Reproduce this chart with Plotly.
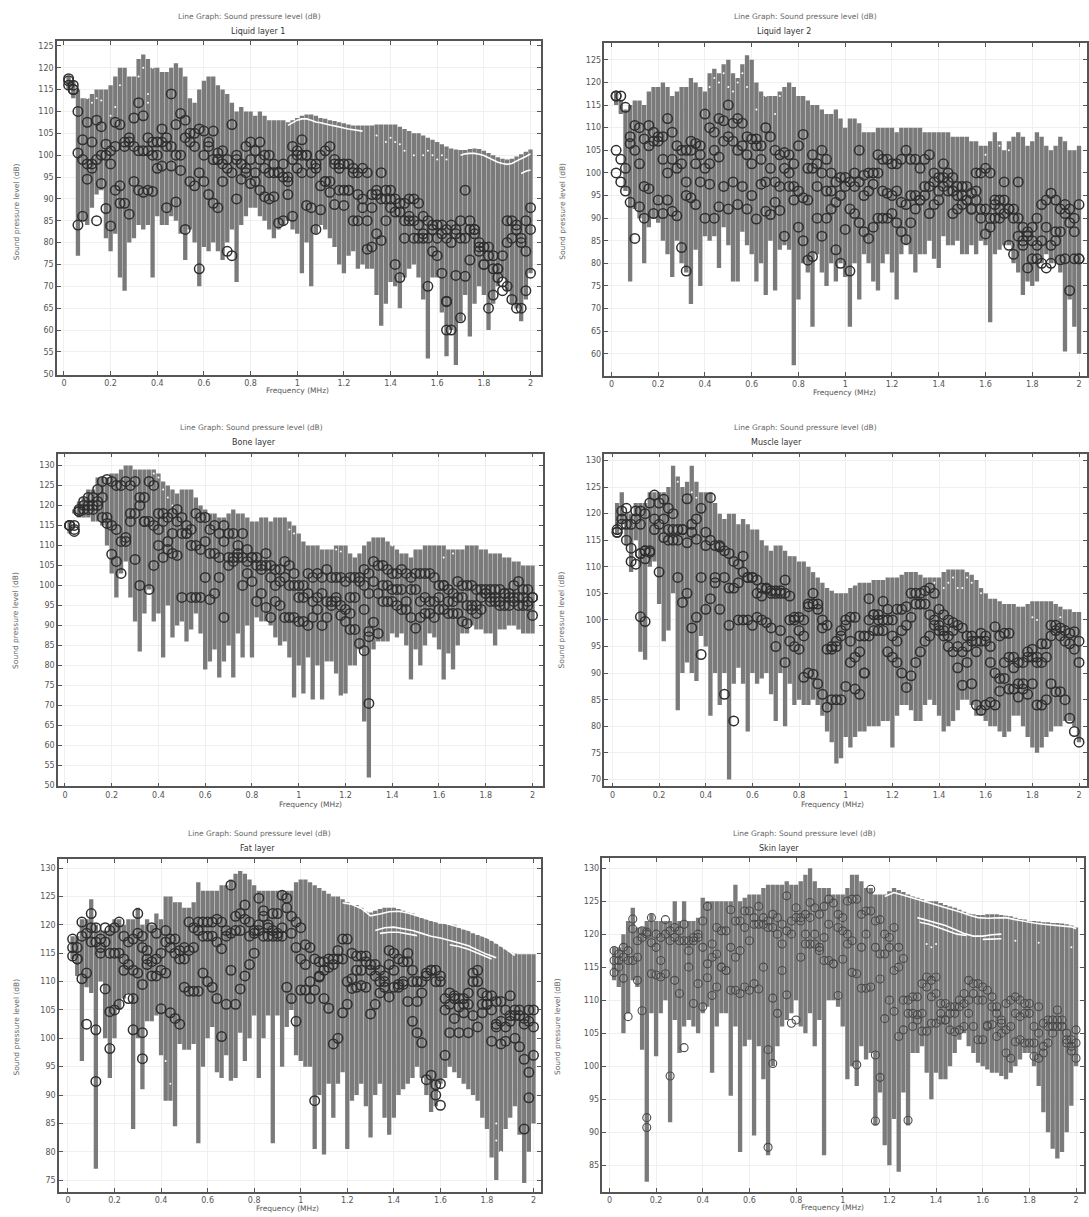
import plotly.graph_objects as go

FREQ = [round(0.02 * i, 2) for i in range(1, 101)]
MAIN_TITLE = "Line Graph: Sound pressure level (dB)"
Y_LABEL = "Sound pressure level (dB)"
X_LABEL = "Frequency (MHz)"

# ---------- Liquid layer 1 ----------
L1_TOP = [118,117,115,113,113,114,115,115,115,116,
          118,120,120,118,118,122,123,122,120,120,
          119,119,120,121,120,118,113,112,115,117,
          118,118,116,115,114,112,110,111,110,110,
          109,110,109,108,108,108,108,107.5,108,108.5,
          109,109.3,109.3,109,108.5,108.3,108,107.8,107.5,107.3,
          107,106.8,106.8,106.8,106.8,106.8,107,107,107,107,
          107,106.5,106,105.5,105,105,104.5,104,103.5,103,
          102.5,102,101.5,101.3,101.2,101.2,101.4,101.5,101.4,101,
          100.5,100,99.5,99.2,99,99.2,99.7,100.2,100.8,101.3]
L1_BOT = [115,113,77,85,84,88,91,92,81,78,
          82,72,69,80,81,84,83,84,72,86,
          84,84,86,85,82,76,83,80,70,79,
          78,80,78,76,80,83,71,84,86,88,
          88,86,85,83,81,83,84,85,83,82,
          73,80,70,82,84,83,81,79,75,73,
          77,78,74,75,74,74,68,61,66,71,
          70,65,72,74,75,72,67,53.5,72,72,
          64,54,60,52,62,68,58.5,66,70,68,
          60,66,70,72,69,66,65,62,67,73]
L1_C1 = [117.5,116,110,103.5,107.5,103,108,106.5,102.5,101,
         107.5,107,103,104,108.5,112,109,104,103,103,
         106,104,114,107,109.5,108,105,105,106,105.5,
         103,105.5,100.5,101,99,107,99,98,102,103,
         101,103,100,100,98,96,98,95,102,101,
         103.5,100,98,98,100,101,102,99,98,98,
         98,97,96,97,96,91,92,96,92,90,
         90,89,89,90,90,89,86,85,84,84,
         84,83,84,83,85,92,85,83,80,79,
         79,77,74,77,85,85,84,81,85,88]
L1_C2 = [117,115,100.5,99,98,98,99,100,100,98,
         102,93,102,103,102,101,101,101,100,100,
         103,102,102,100,100,104,103,102,96,100,
         102,99,99,98,97,96,100,98,97,99,
         96,99,97,96,96,96,95,94,99,100,
         100,100,96,97,93,94,94,98,97,92,
         92,96,91,90,85,88,91,90,90,88,
         87,87,85,86,85,84,82,81,83,81,
         82,81,80,82,81,81,83,83,78,75,
         77,74,74,71,80,81,83,80,78,83]
L1_C3 = [116,115,84,86,94.5,97,85,93.5,87.8,83.8,
         92,89,89,86.5,94,92,91.5,92,91.7,97,
         97.5,88,97.5,89.3,96.5,83,94,93,74,94,
         91,89,88,94,78,77,90,94.5,96,93.5,
         94,92,90.5,90,90.5,84.5,85,91,86,97,
         96,88.5,88,83,87.5,94,91.5,88.7,92,88.5,
         92,85,85,88,78.5,79,82,80.5,85,92,
         75,72,81,85,81,81,81,70,78,77,
         73,66.5,60,72.5,62.8,72.3,76,82,79,75,
         65,68,72,69,70,67,65,65,69,73]
L1_EX_X = [0.66, 1.64, 1.64]
L1_EX_Y = [99, 66.6, 60]
L1_W = [([0.96,0.98,1.0,1.02,1.04,1.06,1.08,1.1,1.12,1.14,1.16,1.18,1.2,1.22,1.24,1.28],
         [106.8,107.5,108,108.3,108.3,108,107.6,107.4,107.1,106.9,106.7,106.4,106.2,106,105.8,105.5]),
        ([1.7,1.72,1.74,1.76,1.78,1.8,1.82,1.84,1.86,1.88,1.9,1.92,1.94,1.96,1.98,2.0],
         [100,100.3,100.4,100.4,100.2,99.9,99.4,98.9,98.4,98.1,97.9,98.1,98.7,99.2,99.7,100.3]),
        ([1.96,1.98,2.0], [95.8,96.3,96.6])]
L1_SP_X = [0.1,0.12,0.14,0.16,0.2,0.22,0.24,0.32,0.34,0.36,0.36,0.38,1.34,1.38,1.4,1.42,1.44,1.46,1.5,1.54,1.56,1.58,1.6,1.62,1.64]
L1_SP_Y = [113,112,113,112.5,109,111,116,118,120,114,112,120,104.5,103,104,103,102.5,101,100,100,101,100,99,100,99]

# ---------- Liquid layer 2 ----------
L2_TOP = [118,116,114,115,116,116,115,118,119,119,
          120,119,117,118,119,119,121,120,119,118,
          122,123,122,124,125,122,121,124,126,125,
          120,118,117,117,117,118,119,120,119,117,
          117,116,115,115,114,113,113,114,112,110,
          112,112,111,109,109,109,110,110,110,110,
          109,110,110,110,110,110,109,109,109,109,
          109,109,108,108,108,108,107,107,106,106,
          107,109,107,105,107,108,109,108,106,107,
          109,108,106,105,106,108,107,105,105,106]
L2_BOT = [115,113,96,76,92,90,80,88,90,89,
          85,82,77,85,80,78,71,83,75,86,
          85,86,79,88,84,76,76,87,84,82,
          76,80,73,85,74,83,84,83,57.5,72,
          80,78,66,82,78,75,80,76,80,77,
          66,80,72,82,80,76,74,80,82,78,
          72,82,84,82,78,82,82,85,81,79,
          86,84,84,85,82,82,84,82,85,84,
          67,82,83,84,84,80,78,73,76,75,
          76,80,82,80,80,78,60.5,72,66,60]
L2_C1 = [117,117,114.5,108,110.5,110,107.5,110.5,109,108,
         108,112,109,106,105,105,107,106.5,106,113,
         110,109,112,111.5,115,111,112,111,108,107.5,
         107.5,106,110,108,105,104,104.5,104,102,106,
         108.5,101,104,102,105,103,100,98,99,99,
         98,100,105,99.5,100,100,104,103,103,102,
         102,103,105,103,103,101,103,104,100,99,
         102,100,99,97,97,97,95.5,100,100,101,
         100,94,94,94,92,90,98,88,87,88,
         90,93,94,95.5,94,92,93,92,90,93]
L2_C2 = [105,103,101,106.5,105,102,97,106,107,107,
         103,100,103,101,102,98,105,102,104,101,
         102,105,103.5,107,108,107,105,106,104,102,
         106,103,98,101,98,97,101,100,97,96,
         94.5,94,101,97,100,96,96,93.5,95,97,
         92,97,98,95,96,97.5,100,96,95.5,95,
         96,93.5,93,95,95,94,97,97,98,96,
         97,96,96,95,95,94,92,94,92,92,
         90,93,90,91,92,92,90,84,86,85,
         84,85,88,84,87,87,91,89,87,81]
L2_C3 = [100,98,96,93.5,85.5,92.5,90,96.5,91,94,
         91,94,91.5,90.5,83.5,95,94.5,93,98,90,
         97.5,90,92.5,97,92,98,93,97,92,95,
         89.8,97.5,91.5,90.8,93.5,91.7,86,97,94,88,
         85,80.7,81.5,90,86,90,92,83,80,87.5,
         78.3,91,89,87,85.5,88,90,90,90,91,
         89,87,85.3,89,92,94,95,91,93,94,
         99,98,91,92,93,94,92,96,90,86.5,
         88,90,92,98,84,82,86,85,79,81,
         81,80,79,80,85,80.8,81,74,81,81]
L2_EX_X = [0.32, 0.02]
L2_EX_Y = [78.3, 117]
L2_W = []
L2_SP_X = [0.42,0.44,0.46,0.48,0.5,0.52,0.54,0.56,0.58,0.62,0.66,0.7,0.72,1.6,1.66,1.7]
L2_SP_Y = [119,121,120,122,119,118,120,122,119,114,117,113,117,104,106,105]

# ---------- Bone layer ----------
B_TOP = [116,119,121,122,124,124,127,127,127,128,
         128,129,130,130,129,129,129,129,129,128,
         126,125,124,123,124,124,124,122,120,119,
         118,118,117,117,118,119,118,118,117,116,
         116,117,117,116,117,117,117,116,115,113,
         111,110,110,110,109,109,109,110,110,110,
         108,107,108,110,111,112,112,112,111,110,
         109,108,108,107,109,109,110,110,110,110,
         110,109,109,109,109,110,110,110,109,109,
         108,108,108,107,107,106,106,105,105,105]
B_BOT = [113,118,117,117,117,116,116,115,110,103,
         97,103,106,97,91,83.5,93,99,91,93,
         82,95,87,90,91,86,89,93,88,79,
         81,84,77,81,85,77,88,82,90,82,
         92,91,91,90,87,85,86,82,72,80,
         73,82,71.5,80,71.5,81,81,78,72.5,73,
         80,80,84,66,52,84,86,86,86,88,
         87,88,85,76.5,84,80,85,88,87,84,
         76.5,83,79,85,88,88,90,89,89,88,
         88,85,89,89,90,90,89,88,88,88]
B_C1 = [115,115,119,121,122,122,124,126,126.5,126,
        125,125,126,125,126,122,122,126,125,118,
        118,117,118,119,117,115,114,118,117,117,
        114,115,113,115,113,113,110,113,109,107,
        107,105,108,105,104,104,106,105,103,100,
        100,103,102,103,102,104,102,102,102,101,
        102,102,102,104,103,106,105,105,104,103,
        103,104,103,102,103,103,103,103,102,100,
        100,99,98,101,100,100,100,99,99,99,
        99,99,99,98,98,100,101,99,99,97]
B_C2 = [115,113.5,118.5,120,120,120,121,122,117,115,
        114,111,112,116,118,120,116,116,115,114,
        116,111,113,116,113,113,110,110,109,111,
        108,108,107,111,107,107,107,107,106,107,
        105,104,105,102,100,101,102,100,100,97,
        97,98,96,97,98,96,96,97,95,94,
        97,97,101,100,98,101,98,100,100,99,
        99,99,96,99,99,96,97,96,96,97,
        100,96,96,97,97,95,94,95,97,98,
        97,97,96,98,97,97,97,97,96,97]
B_C3 = [115,114,118.5,119,119,119,120,117,115.5,107.8,
        106,103,111,118,106.5,100,116,99,105,110,
        107,109,108,107.5,97,113,97,97,97,102,
        96.5,98,102,92,105,106,108,100,103,101,
        96,98,94.5,92,96,95,92,92,92,91,
        91,90,92,94,90,92,95,96,92.5,91,
        93,89,85.5,94,70.5,90.8,88,96,96,96,
        95,94,94,92,89.3,92,93,93,92,94,
        94,93,93,93,91,90.5,95,93,94,98,
        96,96,95,95,95,96,95,95,95,92.5]
B_EX_X = [1.28, 1.3, 1.3, 1.22]
B_EX_Y = [83.7, 88.5, 87.2, 89]
B_W = []
B_SP_X = [0.38,0.4,0.42,0.44,0.46,0.96,0.98,1.16,1.18,1.4,1.44,1.46,1.62,1.66]
B_SP_Y = [128,127,124,122,120,114,113,109,108.5,110,109,110,107,108]

# ---------- Muscle layer ----------
M_TOP = [122,124,120,120,122,122,122,124,124,124,
         124,125,129,127,125,126,129,126,124,124,
         124,122,120,119,120,120,118,119,118,117,
         117,115,114,113,114,114,113,112,112,111,
         111,110,109,108,107,106,105.5,105,105,105,
         106,106.5,107,107,107,107.5,107.5,107.5,108,108,
         108,108.5,109,109,109,108.5,108,108,108,108,
         109,109.5,109.5,109.5,109.5,109,108.5,107.5,106,105,
         104,104,103.5,103,103,103,102.5,102.5,103,103.5,
         103.5,103.5,103.5,103.5,103,102.5,102,102,101.5,101.5]
M_BOT = [116,118,114,109,115,94,92.5,110,111,103,
         96,98,105,83,90,92,90,88.5,97,95,
         82,90,84,90,70,88,91,88,79,90,
         88,89,90,86,81,90,80,88,84,85,
         84,84,85,84,82,79,77,73,74,78,
         76,78,79,79,80,80,80,81,81,76,
         82,84,84,83,81,81,84,85,84,82,
         79,80,81,83,85,85,84,82,82,81,
         80,80,79,78,79,82,82,80,78,76,
         75,76,78,79,80,80,81,81,80,77]
M_C1 = [117,120.5,121,118,120.5,120.5,120,122,123.5,122,
        122.7,121,120,117,117,122.8,118,119,121,116.5,
        123,114,113.7,113,112.5,111,110.5,112,108,108,
        107.5,106,105.8,105.5,105.5,105.5,107.5,104.5,100.5,100.5,
        100,103,105,103,100,99,95,96,97,100,
        100.5,100.5,97,97,104,101,101,103.5,102,100,
        102,102,102.5,105,105,105,105.5,106,105,102,
        101,100,99.5,99,98.5,97,97,94,97.5,97,
        95,98.7,97,97.5,97.5,93,92,92,94,94.5,
        93,95.5,95.5,99,99,98.5,98,97.5,97.8,96]
M_C2 = [116.5,119,118,113.5,119,118,113,112.7,119,118,
        119,117,117,115,117,114.5,116.5,115.2,108,114,
        115,108,114,108,106,106,107,109,108,108,
        105,104.5,106,105,105,105,105,100,100,98,
        97,102.5,103,102,98.5,94.5,94.5,95,98,99,
        96,93,94,90,100,101,100,100,100,97,
        96,98,99,100.5,103,103,103,101,100,99,
        98,97,98,95,94,95,96,96,96,96,
        92,90,89,92,93,91,88,88,93,93,
        92,92,93,97,98,97,96,95.5,94.5,92]
M_C3 = [116.5,118,115,111,110.5,100.6,99.7,113,117,109,
        115.5,115,115,108,103.3,105,98.5,100.5,93.5,102,
        104,107,102,86,99,81,100,100,100,99,
        100.5,100,99.5,98.5,95,98,92,96,95,94.5,
        89.2,90,89.8,88,86,83.6,85,85,85,87.5,
        92,87,86,90,97,98,98,98,94,93,
        92,90,87.3,89.5,92,94,96,97,99,98,
        97,95,94,91,87.7,92,88,84,83,84,
        84.5,84,86.6,89,87,87,85.5,87,86,88,
        84,84,85,88,86.5,86.5,85,81.5,79,77]
M_EX_X = [0.12, 0.14, 0.12, 0.14]
M_EX_Y = [112.5, 113, 112.5, 111.5]
M_W = []
M_SP_X = [0.28,0.3,0.34,0.36,1.38,1.42,1.44,1.46,1.48,1.5,1.52,1.54,1.58,1.8,1.82,1.92]
M_SP_Y = [126,123,124,123,107,106,107,108,106,106,108,107,105,100.5,100,100.5]

# ---------- Fat layer ----------
F_TOP = [118,118,121,121,124.5,120,119,119,120,121,
         121,120,121,121,123,120,121,120,122,121,
         125,125,124,124,123,123,124,127.5,126,126,
         126,126,127,127,128,129,129.5,129,128,127,
         126,126,126,126,126,126,126,126,127.5,128,
         128,127.5,127,126.5,126,125.5,125,125,124.5,124,
         123.5,123.5,123,122.3,122.2,122.5,122.8,123,123,123,
         122.8,122.5,122.2,122,121.5,121.2,121,120.7,120.5,120.2,
         120.2,120,120,119.5,119.2,119,118.5,118.2,118,117.7,
         117.2,116.7,116.2,115.7,115.2,114.9,114.8,114.8,114.8,114.8]
F_BOT = [114,111,96,109,108,77,110,100,93,100,
         105,107,108,84,100,91,103,103,104,97,
         89,89,84.5,99,98,98,99,81.5,95,100,
         102,94,93,97,92.5,93,101,96,100,104,
         93,100,104,81.5,104,95,102,105,97,96,
         95,95,80.5,90,79.5,92,86,92,94,80.5,
         89,90,92,88,82.5,90,92,86,83,86,
         90,91,92,93,95,93,90,87,88,92,
         93,95,94,93,92,91,90,89,86,84,
         79,75,80,84,86,88,83,74.5,80,85]
F_C1 = [117.5,116,120.5,118.5,122,119.5,117.5,119.5,119,119.5,
        120.5,118,117,117.5,122,118,115.5,119.5,118.5,115,
        119,117.5,117.5,115.5,116,120.5,119.5,120.5,120.5,120.5,
        120.5,121,120.5,119,127,121.5,122,123.5,120.5,119,
        124.7,122.5,120,122,122,125.2,124.7,121.5,120.5,119.5,
        116.5,116,114,113.5,113.5,114,114,115.5,117.5,117.5,
        115,114.5,114.5,114.5,113,113,112,111,115.5,115,
        114,113.5,115,112,110,110,111.5,112,112,111,
        107,108,107.5,107,107,108,111.5,112,108,107.5,
        107.5,106.5,106.5,105,107.5,105,104,103.5,105,105]
F_C2 = [116,114,118,111.5,119.5,117,116,117,115,115,
        115,114,113,112,118.5,116,114,113.5,114,112,
        117,116,115,114,114,115.5,116,119,118,118,
        118,117,115.8,118,118.5,119,119,121,118,118.5,
        120,121.5,119.5,119,118.5,119.5,123,118.5,116,114,
        113,110,108.5,111,112,112.5,113,114,114,110,
        110.5,112,112,113.5,112,111,110,110,113,112,
        109.5,110,113.5,110,106.5,108,111,112,110,110,
        105,106,107,105.5,106,106,110,110,106,106,
        105,102.5,103,102,104,104,105,102.5,103,102]
F_C3 = [114.5,114,110.5,102.5,117,101.5,115,108.7,104.7,105,
        106,112,107,101.5,111.5,109.5,113,111,111,105.2,
        111.5,104.5,103.5,102.5,109,108.3,108.3,108.3,111.5,110,
        109,107,100.3,106,112,106,108.7,111,113,115,
        119,118,118,118,118,118,109,107,103,108.5,
        108.5,107,89,110.8,107,105.3,99,100,104.5,106,
        108.8,109,109.3,109,104.3,106,108,109,107.3,109,
        109,109.5,106.5,103,101,99.2,92.7,93.5,90,88.2,
        97,101,103.5,101,104.5,101,104,102,104.5,106,
        99.5,102,99,99.5,103,100,98.5,84,89.5,97]
F_EX_X = [0.12, 0.18, 0.32, 0.28, 0.32, 1.98, 1.96, 1.58, 1.6]
F_EX_Y = [92.4, 98.2, 96.4, 107, 101, 94, 96.3, 91.8, 92]
F_W = [([1.18,1.22,1.26,1.3,1.34,1.38,1.42,1.46,1.5,1.54,1.58,1.62,1.66,1.7,1.74,1.78,1.82,1.86,1.9,1.92],
        [123.9,123.6,122.9,121.6,121.9,122.3,122.4,122.1,121.6,121.1,120.6,120.3,119.9,119.4,118.8,118.1,117.4,116.4,115.1,114.6]),
       ([1.32,1.36,1.4,1.44,1.48,1.52,1.56,1.6,1.64,1.68,1.72,1.76,1.8,1.84],
        [119,119.5,119.6,119.3,119,118.5,118,117.7,117.3,116.8,116.3,115.5,114.8,114.2]),
       ([1.34,1.38,1.42,1.46,1.5], [118.5,118.7,118.7,118.4,118.1]),
       ([1.64,1.68,1.72,1.76,1.8,1.82], [116.5,116.2,115.7,115,114.3,114])]
F_SP_X = [0.42,0.44,1.84,1.86,1.86,1.84]
F_SP_Y = [96,92,85,80,78,82]

# ---------- Skin layer ----------
S_TOP = [118,118,120,122,124,121,121,122,123,122,
         122,122,122,125,122,125,122,122,122.5,125.5,
         125,125,125,125,125,125,127.5,125,125.5,126,
         126,126,127,127.5,127.5,127.5,127.5,128,127.5,127.5,
         128,129,130,128,127,127,127,126,126,126,
         127,129,129,128,127,127,126,126,126,126.5,
         127,126.7,126.4,126,125.7,125.5,125.3,125,125,125,
         124.7,124.4,124.2,124,123.7,123.4,123.1,123,122.9,122.9,
         123,123,123,122.9,122.8,122.7,122.5,122.3,122.2,122,
         122,121.9,121.8,121.8,121.7,121.7,121.6,121.5,121.3,121]
S_BOT = [113,112,105,108,113,112,102.5,82.5,108,101.5,
         108,110,91.5,107,102,106,107,106,105,108,
         109,99,106,108,108,95.5,106,87,103,104,
         89.5,103,98,86.5,100,103,106,107,108,110,
         106,105,108,103,107,86.5,110,110,109,106,
         98,100,97,103,101,102,91,96,88,85,
         92,84,96,91,102,102,103,99,95,99,
         98,98,100,102,104,105,103,102,100.5,100,
         99.5,99,99,98.5,98,99,100,101,102,102,
         100,97,93,90,87.5,86,87,90,94,100]
S_C1 = [117.5,117,118,117.5,122.3,119,120.5,120,122.5,120,
        119.5,122.2,120.5,121,120.5,121.5,119,119.5,119.5,122,
        124.2,118.5,121,120.5,120.5,123.7,122,122,123.5,123.5,
        122.5,124.2,122.5,122,123,122.5,121.5,125.8,122,124,
        122.5,123,124.8,124,123,124.2,125.3,124.7,123,122.5,
        125,125.3,125.3,123,123.5,126.8,122,122.2,120,119.5,
        121,118,116.3,110,110.5,110.5,112.5,113.5,113,113.5,
        109.5,109.5,109,109,110,111,113,112.5,112.5,112,
        111.5,110.5,109,107,109.5,110,110.5,110,109.5,109.5,
        106,109,106.5,107,107,108.5,107,105,104,105.5]
S_C2 = [116,116,116.5,116,120.8,116.5,119.5,120.3,118.7,118,
        116,120,119,119.5,119,119,117.5,119,120,118,
        115.5,116.5,117,115,114.5,118,116.5,117.5,121,119,
        121.5,121.5,121.5,121,121,120,118.5,120.5,120,122.5,
        122,120,122.5,120,118,119.5,121.5,115.5,121,120.5,
        120,119,114,118,120,123.5,118,117,117,118,
        114.5,115,110,108,108,107,108,112,110.5,111,
        108,107,108,108,109,109.5,110,111,110,110,
        106,109,108,106.5,105.5,106,108,107.5,108,108,
        103.5,105,102,106,106,106,106,104,103,103.5]
S_C3 = [114.2,115,113.3,107.5,116,113,108.4,92.2,114,113.8,
        113.5,114,98.5,113,111,102.8,115,109.5,112.5,109,
        113.4,110.7,112,115,114.5,111.5,111.5,111,112,111.5,
        112.5,111.7,115,87.7,110.3,108,114.5,110.8,106.5,107,
        116.5,118.5,118.5,118.5,117.5,116,116,115.5,110.7,116.2,
        118.5,114.2,100.2,111.8,111.8,112,101.7,113.2,107.2,110,
        108.3,104.5,105.5,91.8,106,107.8,105.3,105.3,106.5,106.5,
        107,107,105.5,105.2,105.5,106,108,106,104,104,
        106.2,106.3,104.5,105,102,101.2,103.7,104,103.5,103.5,
        101.5,101.2,103,103.5,105,107,106,103.5,102.3,101.2]
S_EX_X = [0.16, 0.68, 0.7, 1.14, 1.16]
S_EX_Y = [90.7, 102.5, 100.4, 91.7, 98.3]
S_W = [([1.18,1.22,1.26,1.3,1.34,1.38,1.42,1.46,1.5,1.54,1.58,1.62,1.66,1.7,1.74,1.78,1.82,1.86,1.9,1.94,1.98,2.0],
        [125.7,126.3,125.9,125.5,125,124.7,124.3,123.9,123.4,122.9,122.5,122.4,122.5,122.5,122.2,121.9,121.7,121.5,121.4,121.3,121.1,120.8]),
       ([1.32,1.36,1.4,1.44,1.48,1.52,1.56,1.6,1.64,1.68],
        [122.5,122.1,121.8,121.3,120.7,120.1,119.7,119.7,119.9,120]),
       ([1.33,1.37,1.41,1.45,1.49,1.53], [121.8,121.5,121,120.5,120,119.8]),
       ([1.6,1.64,1.68], [119.2,119.2,119.3])]
S_SP_X = [1.36,1.38,1.4,1.74,1.84,1.98]
S_SP_Y = [118.5,118,118.5,119,118.7,118]

PANELS = [
    dict(name="Liquid layer 1", top=L1_TOP, bot=L1_BOT, c=[L1_C1,L1_C2,L1_C3], ex=(L1_EX_X,L1_EX_Y), w=L1_W, sp=(L1_SP_X,L1_SP_Y),
         box=(57,541,41,376), x02=(64,531), y2=((125,46),(50,375)), dy=5,
         t1=(250,17), t2=(258,32), xl=(298,392), yl=(16,212)),
    dict(name="Liquid layer 2", top=L2_TOP, bot=L2_BOT, c=[L2_C1,L2_C2,L2_C3], ex=(L2_EX_X,L2_EX_Y), w=L2_W, sp=(L2_SP_X,L2_SP_Y),
         box=(605,1088,43,377), x02=(612,1080), y2=((125,60),(60,355)), dy=5,
         t1=(806,17), t2=(785,32), xl=(845,394), yl=(563,212)),
    dict(name="Bone layer", top=B_TOP, bot=B_BOT, c=[B_C1,B_C2,B_C3], ex=(B_EX_X,B_EX_Y), w=B_W, sp=(B_SP_X,B_SP_Y),
         box=(58,543,455,789), x02=(65,533), y2=((130,467),(50,788)), dy=5,
         t1=(252,429), t2=(254,444), xl=(311,807), yl=(16,622)),
    dict(name="Muscle layer", top=M_TOP, bot=M_BOT, c=[M_C1,M_C2,M_C3], ex=(M_EX_X,M_EX_Y), w=M_W, sp=(M_SP_X,M_SP_Y),
         box=(605,1088,455,789), x02=(613,1080), y2=((130,462),(70,782)), dy=5,
         t1=(806,429), t2=(777,444), xl=(833,807), yl=(562,622)),
    dict(name="Fat layer", top=F_TOP, bot=F_BOT, c=[F_C1,F_C2,F_C3], ex=(F_EX_X,F_EX_Y), w=F_W, sp=(F_SP_X,F_SP_Y),
         box=(59,541,862,1196), x02=(68,534), y2=((130,871),(75,1184)), dy=5,
         t1=(260,836), t2=(258,851), xl=(288,1212), yl=(17,1030)),
    dict(name="Skin layer", top=S_TOP, bot=S_BOT, c=[S_C1,S_C2,S_C3], ex=(S_EX_X,S_EX_Y), w=S_W, sp=(S_SP_X,S_SP_Y),
         box=(603,1085,861,1196), x02=(610,1077), y2=((130,871),(85,1169)), dy=5,
         t1=(805,836), t2=(780,851), xl=(833,1211), yl=(558,1030)),
]

W, H = 1089, 1217
FONT = "DejaVu Sans"
STEM = "#7a7a7a"
CIRCLE = "#2f2f2f"
fig = go.Figure()
annos = []
axes = {}

def txt(text, pos, size, color, angle=0):
    annos.append(dict(text=text, x=pos[0] / W, y=1 - pos[1] / H, xref="paper", yref="paper", showarrow=False,
                      xanchor="center", yanchor="middle", textangle=angle,
                      font=dict(family=FONT, size=size, color=color)))

for i, p in enumerate(PANELS):
    for arr in [p["top"], p["bot"], *p["c"]]:
        assert len(arr) == 100, (p["name"], len(arr))
    s = "" if i == 0 else str(i + 1)
    l, r, t, b = p["box"]
    (xa, xb) = p["x02"]
    pxm = (xb - xa) / 2
    xr = [(l - xa) / pxm, (r - xa) / pxm]
    (v1, p1), (v2, p2) = p["y2"]
    pdb = (p2 - p1) / (v1 - v2)
    yr = [v2 - (b - p2) / pdb, v1 + (p1 - t) / pdb]
    common = dict(showline=True, linecolor="#555555", linewidth=1.5, mirror="allticks", ticks="inside",
                  ticklen=4, tickcolor="#555555", tickwidth=1, showgrid=True, gridcolor="#f0f0f0",
                  gridwidth=1, zeroline=False, tickfont=dict(family=FONT, size=8, color="#555555"))
    axes["xaxis" + s] = dict(domain=[l / W, r / W], range=xr, anchor="y" + s, dtick=0.2, tick0=0, **common)
    axes["yaxis" + s] = dict(domain=[1 - b / H, 1 - t / H], range=yr, anchor="x" + s, dtick=p["dy"], tick0=0, **common)
    fig.add_trace(go.Bar(x=FREQ, y=[a - c for a, c in zip(p["top"], p["bot"])], base=p["bot"], width=0.0185,
                         marker=dict(color=STEM, line=dict(width=0)), xaxis="x" + s, yaxis="y" + s, showlegend=False))
    fig.add_trace(go.Scatter(x=p["sp"][0], y=p["sp"][1], mode="markers", marker=dict(color="white", size=2),
                             xaxis="x" + s, yaxis="y" + s, showlegend=False))
    for wx, wy in p["w"]:
        fig.add_trace(go.Scatter(x=wx, y=wy, mode="lines", line=dict(color="white", width=1.6),
                                 xaxis="x" + s, yaxis="y" + s, showlegend=False))
    cx = FREQ * 3 + p["ex"][0]
    cy = p["c"][0] + p["c"][1] + p["c"][2] + p["ex"][1]
    skin = p["name"] == "Skin layer"
    col = "#4a4a4a" if skin else CIRCLE
    fig.add_trace(go.Scatter(x=cx, y=cy, mode="markers",
                             marker=dict(symbol="circle-open", size=8 if skin else 9.5, color=col,
                                         line=dict(width=1.1 if skin else 1.5, color=col)),
                             xaxis="x" + s, yaxis="y" + s, showlegend=False))
    txt(MAIN_TITLE, p["t1"], 7.5, "#666666")
    txt(p["name"], p["t2"], 8, "#333333")
    txt(X_LABEL, p["xl"], 7.5, "#555555")
    txt(Y_LABEL, p["yl"], 7.5, "#666666", -90)

fig.update_layout(width=W, height=H, margin=dict(l=0, r=0, t=0, b=0), paper_bgcolor="white", plot_bgcolor="white",
                  barmode="overlay", annotations=annos, showlegend=False, **axes)
fig.write_html("out.html", config={"displayModeBar": False}, post_script="document.body.style.margin='0';")
